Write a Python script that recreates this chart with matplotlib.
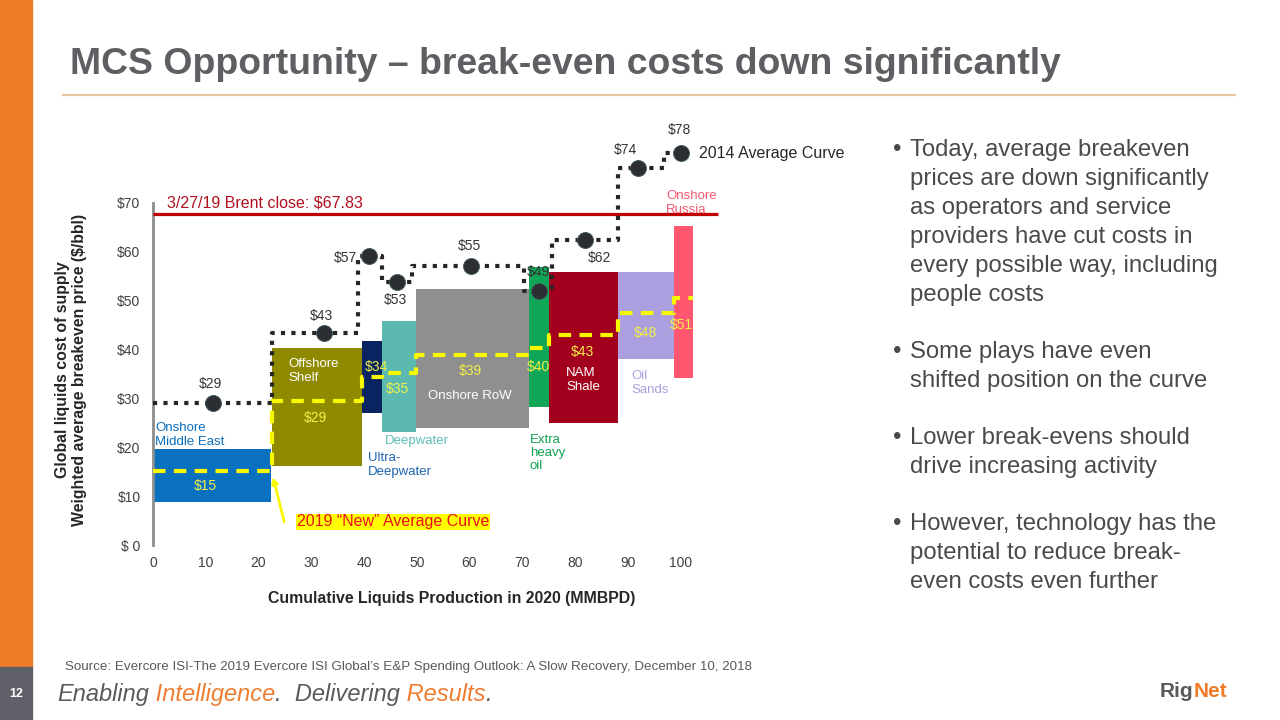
import matplotlib
matplotlib.use("Agg")
import matplotlib.pyplot as plt
from matplotlib.patches import Rectangle
from matplotlib.lines import Line2D

plt.rcParams['font.family'] = ['Liberation Sans', 'DejaVu Sans']

# ---------------- data ----------------
segments = ['Onshore\nMiddle East', 'Offshore\nShelf', 'Ultra-\nDeepwater', 'Deepwater',
            'Onshore RoW', 'Extra\nheavy\noil', 'NAM\nShale', 'Oil\nSands', 'Onshore\nRussia']
x_start = [0.0, 22.6, 39.7, 43.5, 49.9, 71.2, 75.0, 88.2, 98.7]
x_end = [22.4, 39.7, 43.5, 49.9, 71.2, 75.1, 88.2, 98.7, 102.3]
cost_low = [8.8, 16.2, 27.0, 23.1, 23.9, 28.2, 25.0, 38.1, 34.2]
cost_high = [19.6, 40.3, 41.8, 45.8, 52.4, 56.9, 55.9, 55.9, 65.3]
avg_2019 = [15.1, 29.5, 34.4, 35.2, 38.9, 40.3, 43.0, 47.5, 50.6]
avg_2019_labels = ['$15', '$29', '$34', '$35', '$39', '$40', '$43', '$48', '$51']

curve_2014_edges = [0, 22.5, 38.9, 43.5, 49.1, 70.3, 75.7, 88.2, 96.8, 100.2]
curve_2014_levels = [29.1, 43.4, 59.1, 53.8, 57.1, 52.0, 62.4, 77.2, 80.2]
dots_2014_x = [11.4, 32.4, 41.0, 46.3, 60.3, 73.1, 81.9, 92.0, 100.2]
dots_2014_labels = ['$29', '$43', '$57', '$53', '$55', '$49', '$62', '$74', '$78']

brent_close = 67.83
y_ticks = [0, 10, 20, 30, 40, 50, 60, 70]
y_tick_labels = ['$ 0', '$10', '$20', '$30', '$40', '$50', '$60', '$70']
x_ticks = [0, 10, 20, 30, 40, 50, 60, 70, 80, 90, 100]

bullets = [
    ["Today, average breakeven", "prices are down significantly", "as operators and service",
     "providers have cut costs in", "every possible way, including", "people costs"],
    ["Some plays have even", "shifted position on the curve"],
    ["Lower break-evens should", "drive increasing activity"],
    ["However, technology has the", "potential to reduce break-", "even costs even further"],
]

# ---------------- styles ----------------
box_colors = ['#0a70c0', '#8f8a00', '#0a2462', '#5bb9b0', '#8f8f8f', '#0fa757', '#a2001c', '#ab9fe0', '#ff5770']
name_colors = ['#0a6ebd', 'white', '#1f64b0', '#5fbfb5', 'white', '#12a150', 'white', '#ab9fe0', '#f05a70']
name_pos = [(155, 435, 'left'), (288, 371, 'left'), (368, 465, 'left'), (385, 441, 'left'),
            (470, 396, 'center'), (530, 453, 'left'), (566, 380, 'left'), (631, 383, 'left'),
            (666, 203, 'left')]
avg_label_px = [(205, 486), (315, 418), (376, 367), (397, 389), (470, 371), (538, 367),
                (582, 352), (645, 333), (681, 325)]
dot_offsets = [(-3, 19, 'center'), (-2, 17, 'center'), (-12, -2, 'right'), (-2, -18, 'center'),
               (-2, 20, 'center'), (0, 19, 'center'), (15, -18, 'center'), (-13, 18, 'center'),
               (-2, 23, 'center')]

W, H = 1280, 720
fig = plt.figure(figsize=(12.8, 7.2), dpi=100)


def P(x, y):
    return (x / W, 1 - y / H)


# ---------- slide decoration ----------
fig.patches.append(Rectangle(P(0, 667), 32 / W, 667 / H, transform=fig.transFigure,
                             color='#f07b28', zorder=0))
fig.patches.append(Rectangle(P(0, 720), 32 / W, 53 / H, transform=fig.transFigure,
                             color='#5f6068', zorder=0))
fig.text(*P(16, 694), '12', color='white', fontsize=9, fontweight='bold', ha='center', va='center')

fig.text(*P(70, 64), 'MCS Opportunity \u2013 break-even costs down significantly',
         fontsize=26.9, fontweight='bold', color='#5f5f63', ha='left', va='center')
fig.lines.append(Line2D([63 / W, 1235 / W], [1 - 95 / H, 1 - 95 / H], transform=fig.transFigure,
                        color='#e8c8a4', lw=1.6))

# ---------- chart ----------
ax = fig.add_axes([153 / W, 1 - 545 / H, 567 / W, 430 / H])
ax.set_xlim(0, 107.5)
ax.set_ylim(0, 88)
for s in ['top', 'right', 'bottom']:
    ax.spines[s].set_visible(False)
ax.spines['left'].set_bounds(0, 70)
ax.spines['left'].set_color('#8c8c8c')
ax.spines['left'].set_linewidth(2)
ax.set_yticks(y_ticks)
ax.set_yticklabels(y_tick_labels)
ax.set_xticks(x_ticks)
ax.tick_params(axis='both', length=0, labelsize=10, labelcolor='#404040')
ax.tick_params(axis='y', pad=9)
ax.tick_params(axis='x', pad=8)
ax.patch.set_alpha(0)

for i in range(len(segments)):
    ax.bar(x_start[i], cost_high[i] - cost_low[i], width=x_end[i] - x_start[i], bottom=cost_low[i],
           align='edge', color=box_colors[i], zorder=2)

# brent line
ax.plot([0, 107.2], [brent_close, brent_close], color='#c00000', lw=2.3, zorder=3,
        solid_capstyle='butt')
ax.text((167 - 153) / 5.274, brent_close + 0.6, '3/27/19 Brent close: $%.2f' % brent_close,
        color='#b0101e', fontsize=11.5, ha='left', va='bottom', zorder=6)

# 2019 average curve (yellow dashed step)
ax.step(x_start + [x_end[-1]], avg_2019 + [avg_2019[-1]], where='post', color='#f8f800',
        lw=3, dashes=(3, 2), zorder=4)

# 2014 average curve (black dotted step + dots)
ax.step(curve_2014_edges, curve_2014_levels + [curve_2014_levels[-1]], where='post',
        color='#262626', lw=3, linestyle=(0, (1, 1.5)), zorder=5)
ax.plot(dots_2014_x, curve_2014_levels, 'o', color='#2b2f33', markersize=11.5,
        markeredgecolor='#3f5a5a', markeredgewidth=0.6, zorder=6, linestyle='none')
for xv, yv, lab, (dx, dy, ha) in zip(dots_2014_x, curve_2014_levels, dots_2014_labels, dot_offsets):
    ax.annotate(lab, (xv, yv), xytext=(dx, dy), textcoords='offset pixels', ha=ha, va='center',
                fontsize=10, color='#333333', zorder=7)
ax.annotate('2014 Average Curve', (dots_2014_x[-1], curve_2014_levels[-1]), xytext=(18, 0),
            textcoords='offset pixels', ha='left', va='center', fontsize=11.5, color='#262626')

# box names and 2019 labels
for name, col, (px, py, ha) in zip(segments, name_colors, name_pos):
    fig.text(*P(px, py), name, color=col, fontsize=9.5, ha=ha, va='center', linespacing=1.15,
             zorder=8)
for lab, (px, py) in zip(avg_2019_labels, avg_label_px):
    fig.text(*P(px, py), lab, color='#f2f04a', fontsize=10, ha='center', va='center', zorder=8)

# 2019 curve callout
ax.text((297 - 153) / 5.274, (545 - 522) / 4.886, '2019 \u201cNew\u201d Average Curve', color='#e8101a',
        fontsize=11.5, ha='left', va='center', zorder=8,
        bbox=dict(boxstyle='square,pad=0.05', facecolor='#ffff00', edgecolor='none'))
ax.annotate('', xy=(22.75, 13.9), xytext=(24.9, 4.7),
            arrowprops=dict(arrowstyle='-|>', color='#f8f800', lw=2, mutation_scale=9,
                            shrinkA=0, shrinkB=0), zorder=8)

# axis titles
fig.text(*P(71, 370), 'Global liquids cost of supply\nWeighted average breakeven price ($/bbl)',
         rotation=90, fontsize=11.4, fontweight='bold', color='#262626', ha='center', va='center',
         linespacing=1.15, multialignment='center')
fig.text(*P(452, 598), 'Cumulative Liquids Production in 2020 (MMBPD)', fontsize=11.4,
         fontweight='bold', color='#262626', ha='center', va='center')

# ---------- bullets ----------
y0s = [150, 352, 438, 524]
for y0, lines in zip(y0s, bullets):
    fig.text(*P(893, y0), '\u2022', fontsize=17.2, color='#4a4a4a', ha='left', va='center')
    for k, line in enumerate(lines):
        fig.text(*P(910, y0 + 29 * k), line, fontsize=17.2, color='#4a4a4a', ha='left', va='center')

# ---------- footer ----------
fig.text(*P(65, 667), 'Source: Evercore ISI-The 2019 Evercore ISI Global\u2019s E&P Spending Outlook: '
         'A Slow Recovery, December 10, 2018', fontsize=9.6, color='#595959', ha='left', va='center')

parts = [('Enabling', '#5a5a5a'), (' Intelligence', '#ee7d31'), ('.  Delivering', '#5a5a5a'),
         (' Results', '#ee7d31'), ('.', '#5a5a5a')]
prev = fig.text(*P(57, 701), parts[0][0], fontsize=17, style='italic', color=parts[0][1],
                ha='left', va='baseline')
for txt, col in parts[1:]:
    prev = ax.annotate(txt, xy=(1, 0), xycoords=prev, xytext=(0, 0), textcoords='offset points',
                       fontsize=17, style='italic', color=col, ha='left', va='bottom',
                       annotation_clip=False)

rig = fig.text(*P(1160, 697), 'Rig', fontsize=15, fontweight='bold', color='#5a5a5a',
               ha='left', va='baseline')
ax.annotate('Net', xy=(1, 0), xycoords=rig, xytext=(0, 0), textcoords='offset points',
            fontsize=15, fontweight='bold', color='#f07b28', ha='left', va='bottom',
            annotation_clip=False)

fig.savefig('out.png', dpi=100)
